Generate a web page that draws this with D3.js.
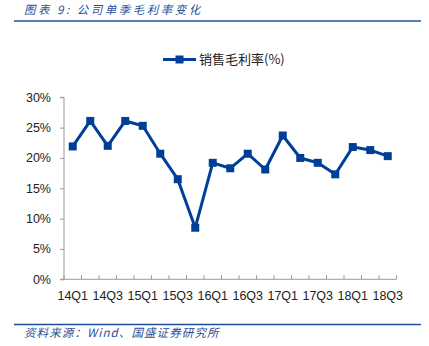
<!DOCTYPE html>
<html><head><meta charset="utf-8">
<script src="https://cdn.jsdelivr.net/npm/d3@7"></script>
<style>
html,body{margin:0;padding:0;background:#fff;}
svg{display:block;}
</style></head>
<body>
<script>
const categories = ["14Q1","14Q2","14Q3","14Q4","15Q1","15Q2","15Q3","15Q4","16Q1","16Q2","16Q3","16Q4","17Q1","17Q2","17Q3","17Q4","18Q1","18Q2","18Q3"];
const grossMargin = [21.9,26.1,22.0,26.1,25.3,20.7,16.5,8.5,19.2,18.3,20.7,18.1,23.7,20.0,19.2,17.3,21.8,21.3,20.3];
const yTicks = [0,5,10,15,20,25,30];
const seriesName = "销售毛利率(%)";
const titleText = "图表 9: 公司单季毛利率变化";
const sourceText = "资料来源：Wind、国盛证券研究所";

const W = 429, H = 346;
const blue = "#003f98";
const textBlue = "#2a4e96";
const svg = d3.select("body").append("svg").attr("width", W).attr("height", H);

// header
svg.append("text").attr("x", 24).attr("y", 13.5)
  .attr("font-family", "'Noto Sans CJK SC', sans-serif").attr("font-size", 11.5)
  .attr("font-style", "italic").attr("letter-spacing", 2.5).attr("fill", textBlue)
  .text(titleText);
svg.append("line").attr("x1", 14).attr("x2", 421).attr("y1", 21).attr("y2", 21)
  .attr("stroke", "#1f4f9c").attr("stroke-width", 1.5);

// footer
svg.append("line").attr("x1", 14).attr("x2", 421).attr("y1", 324.5).attr("y2", 324.5)
  .attr("stroke", "#1f4f9c").attr("stroke-width", 1.5);
svg.append("text").attr("x", 24).attr("y", 337)
  .attr("font-family", "'Noto Sans CJK SC', sans-serif").attr("font-size", 11.5)
  .attr("font-style", "italic").attr("letter-spacing", 1.1).attr("fill", textBlue)
  .text(sourceText);

// scales
const x = d3.scaleBand().domain(categories).range([64, 396.5]);
const y = d3.scaleLinear().domain([0, 30]).range([279.3, 97.3]);

const fontAxis = "'Liberation Sans', Arial, sans-serif";

// y axis
const yAxis = d3.axisLeft(y).tickValues(yTicks).tickFormat(d => d + "%").tickSize(4).tickPadding(9);
const gy = svg.append("g").attr("transform", "translate(64,0)").call(yAxis);
gy.select(".domain").attr("stroke", "#999").attr("d", "M-4,97.3H0V279.3H-4");
gy.selectAll(".tick line").attr("stroke", "#999");
gy.selectAll(".tick text").attr("font-family", fontAxis).attr("font-size", 12.5).attr("fill", "#222");

// x axis
const gx = svg.append("g").attr("transform", "translate(0,279.3)");
gx.append("line").attr("x1", 64).attr("x2", 396.5).attr("stroke", "#999");
gx.selectAll("line.tk").data(categories.concat(["__end"])).enter().append("line")
  .attr("x1", (d, i) => 64 + i * x.bandwidth()).attr("x2", (d, i) => 64 + i * x.bandwidth())
  .attr("y1", 0).attr("y2", -4).attr("stroke", "#999");
gx.selectAll("text").data(categories.filter((d, i) => i % 2 === 0)).enter().append("text")
  .attr("x", d => x(d) + x.bandwidth() / 2).attr("y", 21)
  .attr("text-anchor", "middle").attr("font-family", fontAxis).attr("font-size", 12.5).attr("fill", "#222")
  .text(d => d);

// line
const line = d3.line().x((d, i) => x(categories[i]) + x.bandwidth() / 2).y(d => y(d));
svg.append("path").datum(grossMargin).attr("d", line).attr("fill", "none")
  .attr("stroke", blue).attr("stroke-width", 3).attr("stroke-linejoin", "round");
const ms = 8;
svg.selectAll("rect.m").data(grossMargin).enter().append("rect")
  .attr("x", (d, i) => x(categories[i]) + x.bandwidth() / 2 - ms / 2)
  .attr("y", d => y(d) - ms / 2).attr("width", ms).attr("height", ms).attr("fill", blue);

// legend
const lg = svg.append("g");
lg.append("line").attr("x1", 163).attr("x2", 196).attr("y1", 59.5).attr("y2", 59.5)
  .attr("stroke", blue).attr("stroke-width", 3);
lg.append("rect").attr("x", 175.5).attr("y", 55.5).attr("width", 8).attr("height", 8).attr("fill", blue);
lg.append("text").attr("x", 199).attr("y", 64)
  .attr("font-family", "'Noto Sans CJK SC', sans-serif").attr("font-size", 13).attr("fill", "#222")
  .text(seriesName);
</script>
</body></html>
